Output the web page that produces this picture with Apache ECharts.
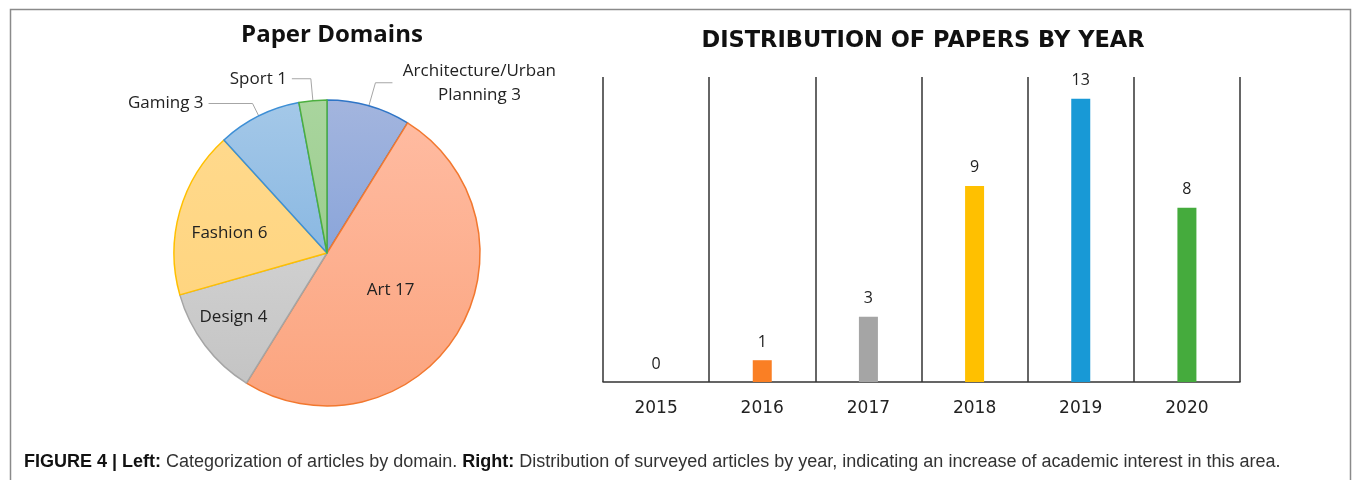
<!DOCTYPE html>
<html>
<head>
<meta charset="utf-8">
<script src="https://cdn.jsdelivr.net/npm/echarts@6/dist/echarts.min.js"></script>
<style>
  html, body { margin: 0; padding: 0; background: #fff; }
  #chart { width: 1356px; height: 480px; }
</style>
</head>
<body>
<div id="chart"></div>
<script>
// ---- Data ----
const domainNames = ['Architecture/Urban Planning', 'Art', 'Design', 'Fashion', 'Gaming', 'Sport'];
const domainValues = [3, 17, 4, 6, 3, 1];

const years = ['2015', '2016', '2017', '2018', '2019', '2020'];
const yearCounts = [0, 1, 3, 9, 13, 8];

const pieTitle = 'Paper Domains';
const barTitle = 'DISTRIBUTION OF PAPERS BY YEAR';
const captionBold1 = 'FIGURE 4 | Left:';
const captionText1 = ' Categorization of articles by domain. ';
const captionBold2 = 'Right:';
const captionText2 = ' Distribution of surveyed articles by year, indicating an increase of academic interest in this area.';

// ---- Styles ----
const sliceStyles = [
  { top: '#a3b5de', bottom: '#8aa5da', border: '#2f75c6' },
  { top: '#ffbba1', bottom: '#fba47e', border: '#f2782f' },
  { top: '#d0d0d0', bottom: '#c4c4c4', border: '#a5a5a5' },
  { top: '#ffd98c', bottom: '#ffd580', border: '#ffc000' },
  { top: '#a4c8e8', bottom: '#8ab8e2', border: '#3d8fd6' },
  { top: '#a9d59e', bottom: '#9ccd8e', border: '#4caf3f' }
];
const sliceLabels = [
  { position: 'outside', length: 24, length2: 17, rich: true },
  { position: 'inside', offset: [-4, -5] },
  { position: 'inside', offset: [-30, 16] },
  { position: 'inside', offset: [-21, 2] },
  { position: 'outside', length: 14, length2: 44 },
  { position: 'outside', length: 22, length2: 19 }
];
const barColors = ['#fa7f24', '#fa7f24', '#a5a5a5', '#ffc000', '#1899d6', '#45ab3d'];

const FONT = '"Open Sans", sans-serif';
const CAP_FONT = '"Liberation Sans", Arial, sans-serif';

const pieData = domainNames.map((n, i) => {
  const s = sliceStyles[i], l = sliceLabels[i];
  const item = {
    name: n,
    value: domainValues[i],
    itemStyle: {
      color: new echarts.graphic.LinearGradient(0, 0, 0, 1, [
        { offset: 0, color: s.top }, { offset: 1, color: s.bottom }
      ]),
      borderColor: s.border,
      borderWidth: 1.5
    },
    label: {
      position: l.position,
      offset: l.offset || [0, 0]
    }
  };
  if (l.position === 'outside') {
    item.labelLine = { show: true, length: l.length, length2: l.length2 };
  } else {
    item.labelLine = { show: false };
  }
  if (l.rich) {
    item.label.formatter = p => {
      const parts = p.name.split(' ');
      return '{c|' + parts[0] + '}\n{c|' + parts.slice(1).join(' ') + ' ' + p.value + '}';
    };
    item.label.rich = { c: { width: 164, align: 'center', fontSize: 17, fontFamily: FONT, color: '#222', lineHeight: 24 } };
  }
  return item;
});

const chart = echarts.init(document.getElementById('chart'), null, { renderer: 'canvas' });

chart.setOption({
  animation: false,
  backgroundColor: '#ffffff',
  graphic: [
    {
      type: 'rect',
      left: 8, top: 7,
      shape: { width: 1340, height: 520 },
      style: { fill: 'none', stroke: '#8a8a8a', lineWidth: 1.5 },
      silent: true
    }
  ],
  title: [
    {
      text: pieTitle,
      left: 327, top: 18,
      textAlign: 'center',
      textStyle: { fontFamily: FONT, fontWeight: 'bold', fontSize: 24, color: '#111' }
    },
    {
      text: barTitle,
      left: 918, top: 25,
      textAlign: 'center',
      textStyle: { fontFamily: '"DejaVu Sans", sans-serif', fontWeight: 'bold', fontSize: 22.5, color: '#111' }
    },
    {
      text: '{b|' + captionBold1 + '}{n|' + captionText1 + '}{b|' + captionBold2 + '}{n|' + captionText2 + '}',
      left: 19, top: 448,
      textStyle: {
        fontWeight: 'normal',
        rich: {
          b: { fontFamily: CAP_FONT, fontWeight: 'bold', fontSize: 18, color: '#111' },
          n: { fontFamily: CAP_FONT, fontWeight: 'normal', fontSize: 18, color: '#333' }
        }
      }
    }
  ],
  grid: { left: 603, right: 116, top: 77, bottom: 98, containLabel: false },
  xAxis: {
    type: 'category',
    data: years,
    axisLine: { show: true, lineStyle: { color: '#333', width: 1.5 } },
    axisTick: { show: false },
    splitLine: { show: true, lineStyle: { color: '#333', width: 1.5 } },
    axisLabel: { fontFamily: '"DejaVu Sans", sans-serif', fontSize: 17, color: '#222', margin: 18 }
  },
  yAxis: {
    type: 'value',
    min: 0, max: 14, interval: 2,
    axisLine: { show: false },
    axisTick: { show: false },
    axisLabel: { show: false },
    splitLine: { show: false }
  },
  series: [
    {
      type: 'pie',
      center: [327, 253],
      radius: 153,
      startAngle: 90,
      clockwise: true,
      avoidLabelOverlap: false,
      data: pieData,
      label: {
        show: true,
        formatter: '{b} {c}',
        fontFamily: FONT,
        fontSize: 17,
        color: '#222'
      },
      labelLine: { lineStyle: { color: '#a6a6a6', width: 1 } },
      emphasis: { disabled: true }
    },
    {
      type: 'bar',
      data: yearCounts.map((v, i) => ({ value: v, itemStyle: { color: barColors[i] } })),
      barWidth: 19,
      label: {
        show: true,
        position: 'top',
        distance: 10,
        fontFamily: FONT,
        fontSize: 16,
        color: '#222'
      },
      emphasis: { disabled: true }
    }
  ]
});
</script>
</body>
</html>
